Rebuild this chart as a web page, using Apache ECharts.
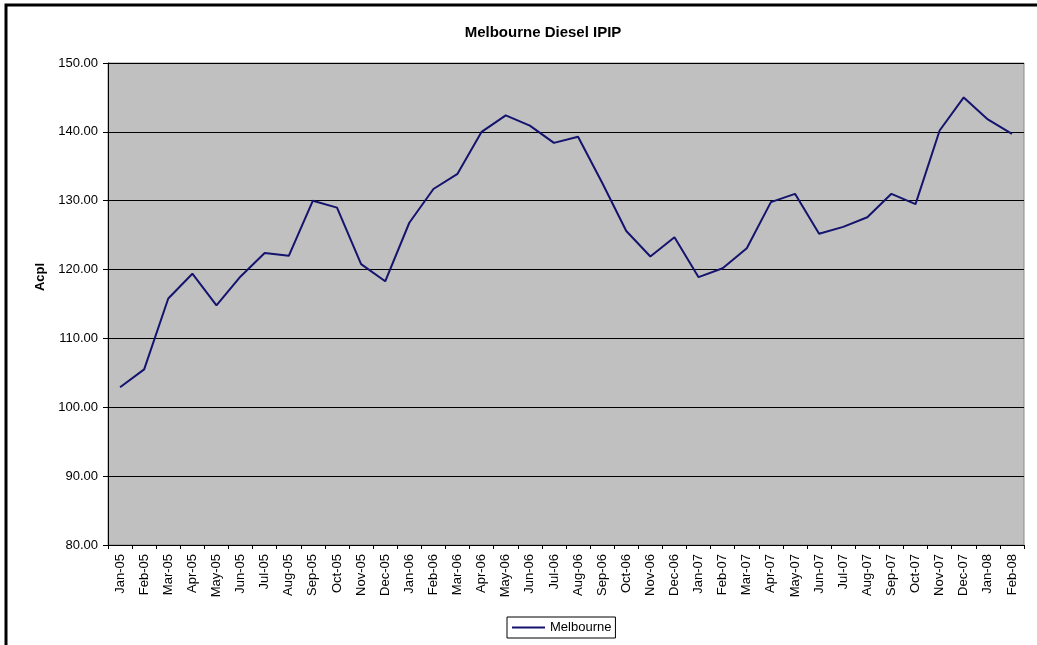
<!DOCTYPE html>
<html>
<head>
<meta charset="utf-8">
<script src="https://cdn.jsdelivr.net/npm/echarts@6/dist/echarts.min.js"></script>
<style>
  html, body { margin: 0; padding: 0; background: #fff; }
  #chart { width: 1037px; height: 645px; }
</style>
</head>
<body>
<div id="chart"></div>
<script>
// 월별 카테고리
const months = ['Jan-05', 'Feb-05', 'Mar-05', 'Apr-05', 'May-05', 'Jun-05', 'Jul-05', 'Aug-05', 'Sep-05', 'Oct-05', 'Nov-05', 'Dec-05',
    'Jan-06', 'Feb-06', 'Mar-06', 'Apr-06', 'May-06', 'Jun-06', 'Jul-06', 'Aug-06', 'Sep-06', 'Oct-06', 'Nov-06', 'Dec-06',
    'Jan-07', 'Feb-07', 'Mar-07', 'Apr-07', 'May-07', 'Jun-07', 'Jul-07', 'Aug-07', 'Sep-07', 'Oct-07', 'Nov-07', 'Dec-07',
    'Jan-08', 'Feb-08'];

// Melbourne 값
const melbourne = [102.9, 105.5, 115.8, 119.4, 114.8, 119.0, 122.4, 122.0, 130.0, 129.0, 120.8, 118.3,
    126.8, 131.7, 133.9, 140.0, 142.4, 140.9, 138.4, 139.3, 132.6, 125.6, 121.9, 124.7,
    118.9, 120.2, 123.1, 129.8, 131.0, 125.2, 126.2, 127.6, 131.0, 129.5, 140.2, 145.0,
    141.8, 139.7];

const yTicks = { min: 80, max: 150, interval: 10 };

const chart = echarts.init(document.getElementById('chart'));

const option = {
    animation: false,
    textStyle: { fontFamily: 'Arial, "Liberation Sans", sans-serif' },
    title: {
        text: 'Melbourne Diesel IPIP',
        left: 538,
        textAlign: 'center',
        top: 20,
        textStyle: { fontSize: 15, fontWeight: 'bold', color: '#000' }
    },
    // 바깥 테두리
    graphic: [{
        type: 'rect',
        shape: { x: 6, y: 5, width: 1050, height: 660 },
        style: { fill: 'none', stroke: '#000', lineWidth: 3 },
        silent: true
    }],
    legend: {
        data: ['Melbourne'],
        left: 507,
        top: 617,
        icon: 'rect',
        itemWidth: 33,
        itemHeight: 2,
        itemGap: 3,
        padding: [4, 4, 4, 5],
        borderColor: '#000',
        borderWidth: 1,
        textStyle: { fontSize: 13, color: '#000' }
    },
    grid: {
        left: 108,
        right: 13,
        top: 63,
        bottom: 100,
        show: true,
        backgroundColor: '#C0C0C0',
        borderColor: '#8a8a8a',
        borderWidth: 1
    },
    xAxis: {
        type: 'category',
        data: months,
        boundaryGap: true,
        axisLine: { lineStyle: { color: '#000', width: 1 } },
        axisTick: { show: true, length: 4, interval: 0, lineStyle: { color: '#000' } },
        axisLabel: { rotate: 90, interval: 0, fontSize: 13, color: '#000', margin: 9 }
    },
    yAxis: {
        type: 'value',
        min: yTicks.min,
        max: yTicks.max,
        interval: yTicks.interval,
        name: 'Acpl',
        nameLocation: 'middle',
        nameGap: 61,
        nameTextStyle: { fontSize: 13, fontWeight: 'bold', color: '#000', padding: [0, 0, 0, 54] },
        axisLine: { show: true, lineStyle: { color: '#000', width: 1 } },
        axisTick: { show: true, length: 5, inside: false, lineStyle: { color: '#000' } },
        axisLabel: { fontSize: 13, color: '#000', margin: 10, formatter: v => v.toFixed(2) },
        splitLine: { show: true, lineStyle: { color: '#000', width: 1 } }
    },
    series: [{
        name: 'Melbourne',
        type: 'line',
        data: melbourne,
        symbol: 'none',
        color: '#14136e',
        lineStyle: { color: '#14136e', width: 2 }
    }]
};

chart.setOption(option);
</script>
</body>
</html>
